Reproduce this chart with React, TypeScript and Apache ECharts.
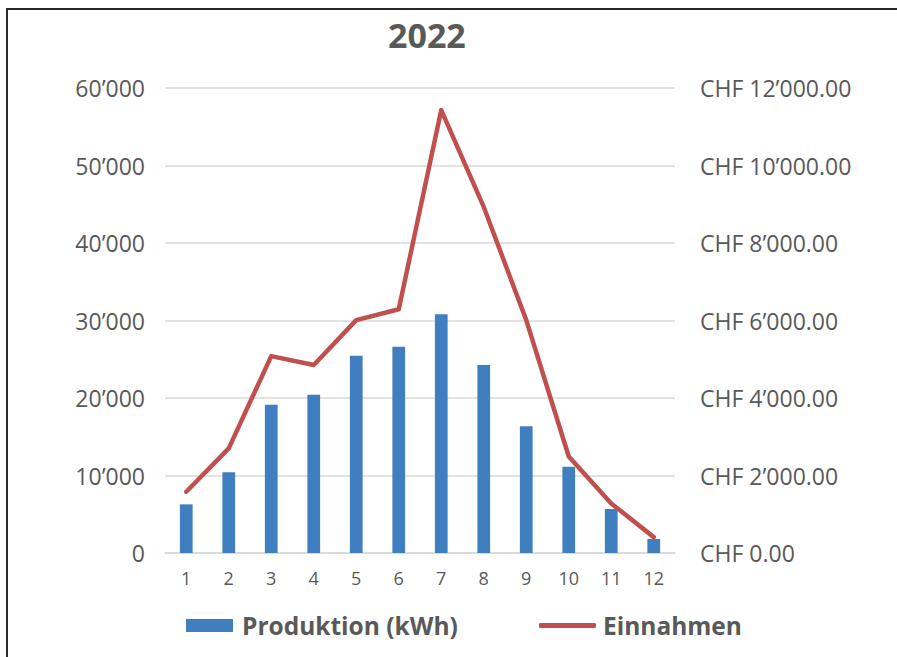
import React, { useEffect, useRef } from "react";
import * as echarts from "echarts";

const categories = ["1", "2", "3", "4", "5", "6", "7", "8", "9", "10", "11", "12"];
const production = [6280, 10410, 19140, 20430, 25460, 26620, 30800, 24260, 16350, 11140, 5680, 1810];
const revenue = [1580, 2700, 5080, 4850, 6010, 6290, 11430, 8930, 6010, 2490, 1280, 410];
const title = "2022";
const seriesNames = ["Produktion (kWh)", "Einnahmen"];

const FONT = "'Open Sans', 'Noto Sans', sans-serif";
const TEXT = "#595959";

function groupThousands(v: number): string {
  const s = Math.round(Math.abs(v)).toString();
  return s.replace(/\B(?=(\d{3})+(?!\d))/g, "\u2019");
}

function chf(v: number): string {
  const fixed = v.toFixed(2);
  const [i, d] = fixed.split(".");
  return "CHF " + groupThousands(Number(i)) + "." + d;
}

export default function App() {
  const ref = useRef<HTMLDivElement>(null);
  useEffect(() => {
    if (!ref.current) return;
    const chart = echarts.init(ref.current, undefined, { renderer: "svg" });
    chart.setOption({
      animation: false,
      backgroundColor: "#ffffff",
      textStyle: { fontFamily: FONT },
      title: {
        text: title,
        left: 388,
        top: 18,
        padding: 0,
        textStyle: { fontFamily: FONT, fontSize: 34, fontWeight: "bold", color: TEXT },
      },
      graphic: [
        {
          type: "rect",
          shape: { x: 7, y: 9, width: 1000, height: 1000 },
          style: { fill: "none", stroke: "#2a2a2a", lineWidth: 2 },
          z: 100,
        },
      ],
      legend: [
        {
          data: [seriesNames[0]],
          left: 186,
          top: 613,
          padding: 0,
          itemWidth: 47,
          itemHeight: 13,
          itemGap: 8,
          icon: "rect",
          textStyle: {
            fontFamily: FONT,
            fontSize: 24.5,
            fontWeight: "bold",
            color: TEXT,
            padding: [0, 0, 0, 4],
          },
        },
        {
          data: [{ name: seriesNames[1], icon: "roundRect" }],
          left: 539,
          top: 613,
          padding: 0,
          itemWidth: 57,
          itemHeight: 5,
          itemStyle: { color: "#C0504D", borderWidth: 0 },
          lineStyle: { width: 0 },
          textStyle: {
            fontFamily: FONT,
            fontSize: 24.5,
            fontWeight: "bold",
            color: TEXT,
            padding: [0, 0, 0, 2],
          },
        },
      ],
      grid: { left: 165, right: 222, top: 88, bottom: 104, containLabel: false },
      xAxis: {
        type: "category",
        data: categories,
        boundaryGap: true,
        axisLine: { show: true, lineStyle: { color: "#D9D9D9", width: 1.5 } },
        axisTick: { show: false },
        axisLabel: { color: TEXT, fontSize: 18, fontFamily: FONT, margin: 16 },
      },
      yAxis: [
        {
          type: "value",
          min: 0,
          max: 60000,
          interval: 10000,
          axisLine: { show: false },
          axisTick: { show: false },
          splitLine: { show: true, lineStyle: { color: "#D9D9D9", width: 1.5 } },
          axisLabel: {
            color: TEXT,
            fontSize: 23,
            fontFamily: FONT,
            margin: 20,
            formatter: (v: number) => groupThousands(v),
          },
        },
        {
          type: "value",
          min: 0,
          max: 12000,
          interval: 2000,
          position: "right",
          axisLine: { show: false },
          axisTick: { show: false },
          splitLine: { show: false },
          axisLabel: {
            color: TEXT,
            fontSize: 23,
            fontFamily: FONT,
            margin: 25,
            formatter: (v: number) => chf(v),
          },
        },
      ],
      series: [
        {
          name: seriesNames[0],
          type: "bar",
          data: production,
          yAxisIndex: 0,
          barWidth: "30%",
          itemStyle: { color: "#3F7FBF" },
        },
        {
          name: seriesNames[1],
          type: "line",
          data: revenue,
          yAxisIndex: 1,
          symbol: "none",
          lineStyle: { color: "#C0504D", width: 4.5, cap: "round", join: "round" },
          itemStyle: { color: "#C0504D" },
        },
      ],
    });
    return () => chart.dispose();
  }, []);
  return (
    <div
      ref={ref}
      style={{ position: "absolute", left: 0, top: 0, width: 897, height: 657 }}
    />
  );
}
